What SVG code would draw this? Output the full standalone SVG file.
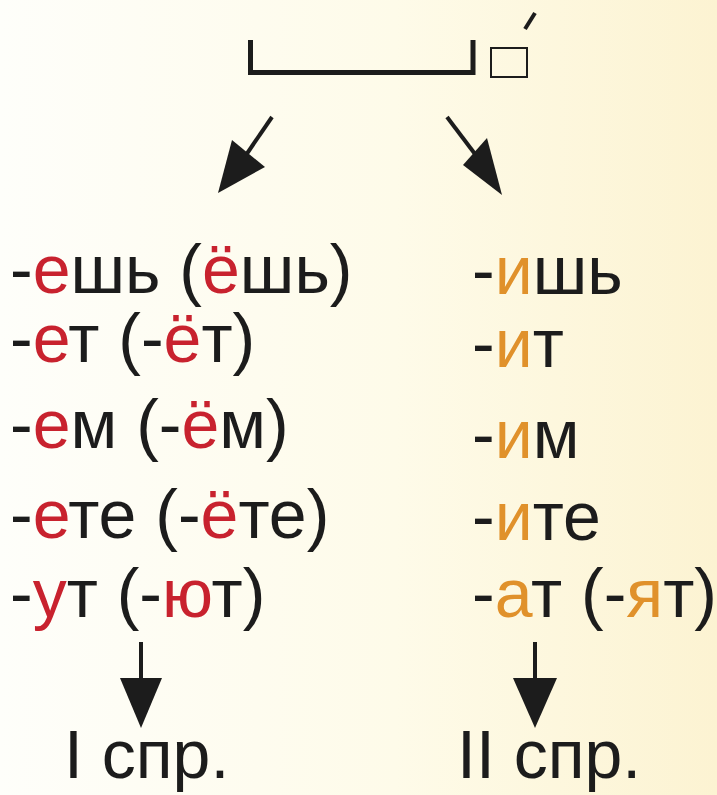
<svg xmlns="http://www.w3.org/2000/svg" width="717" height="795" viewBox="0 0 717 795">
  <defs>
    <linearGradient id="bg" x1="0" y1="0" x2="1" y2="0">
      <stop offset="0" stop-color="#fefefa"/>
      <stop offset="0.55" stop-color="#fefbe9"/>
      <stop offset="1" stop-color="#fcf3d2"/>
    </linearGradient>
    <style>
      text { font-family: "Liberation Sans", Arial, sans-serif; font-size: 68px; fill: #1c1c1c; }
      .r { fill: #c8222e; }
      .o { fill: #e0912b; }
      .ln { stroke: #1c1c1c; fill: none; }
      .ah { fill: #1c1c1c; }
    </style>
  </defs>
  <rect x="0" y="0" width="717" height="795" fill="url(#bg)"/>

  <g id="scheme">
    <path class="ln" d="M250.5,40 V72.5 H473 V40" stroke-width="5"/>
    <rect class="ln" x="491" y="48" width="36" height="29" stroke="#444" stroke-width="2"/>
    <line class="ln" x1="525" y1="29" x2="535" y2="13" stroke-width="4"/>
  </g>

  <g id="connectors">
    <line class="ln" x1="272" y1="117" x2="246" y2="155" stroke-width="4"/>
    <polygon class="ah" points="218,193 232,140 265,167"/>
    <line class="ln" x1="447" y1="117" x2="478" y2="158" stroke-width="4"/>
    <polygon class="ah" points="502,195 463,165 487,138"/>
    <line class="ln" x1="141" y1="642" x2="141" y2="682" stroke-width="4"/>
    <polygon class="ah" points="120,678 162,678 141,728"/>
    <line class="ln" x1="535" y1="642" x2="535" y2="682" stroke-width="4"/>
    <polygon class="ah" points="513,678 557,678 535,728"/>
  </g>

  <g id="conj1">
    <text x="10" y="293">-<tspan class="r">е</tspan>шь (<tspan class="r">ё</tspan>шь)</text>
    <text x="10" y="362">-<tspan class="r">е</tspan>т (-<tspan class="r">ё</tspan>т)</text>
    <text x="10" y="448">-<tspan class="r">е</tspan>м (-<tspan class="r">ё</tspan>м)</text>
    <text x="10" y="538">-<tspan class="r">е</tspan>те (-<tspan class="r">ё</tspan>те)</text>
    <text x="10" y="617">-<tspan class="r">у</tspan>т (-<tspan class="r">ю</tspan>т)</text>
  </g>

  <g id="conj2">
    <text x="472" y="294">-<tspan class="o">и</tspan>шь</text>
    <text x="472" y="367">-<tspan class="o">и</tspan>т</text>
    <text x="472" y="458">-<tspan class="o">и</tspan>м</text>
    <text x="472" y="540">-<tspan class="o">и</tspan>те</text>
    <text x="472" y="617">-<tspan class="o">а</tspan>т (-<tspan class="o">я</tspan>т)</text>
  </g>

  <g id="label1">
    <text x="64" y="778">I спр.</text>
  </g>
  <g id="label2">
    <text x="457" y="778">II спр.</text>
  </g>
</svg>
